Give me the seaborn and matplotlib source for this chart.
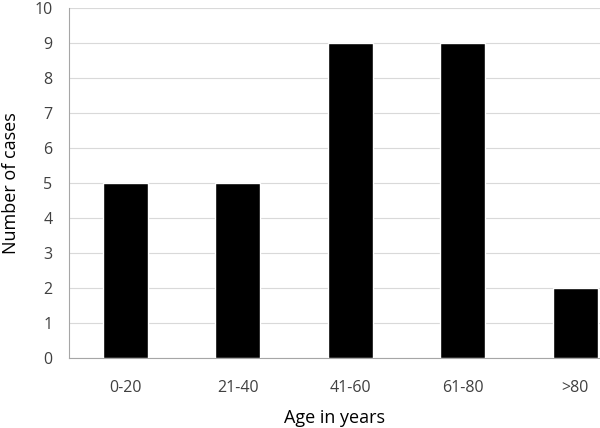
import numpy as np
import pandas as pd
import matplotlib
matplotlib.use('Agg')
import matplotlib.pyplot as plt
import seaborn as sns

age_groups = ['0-20', '21-40', '41-60', '61-80', '>80']
cases = [5, 5, 9, 9, 2]

df = pd.DataFrame({'age': age_groups, 'cases': cases})

sns.set_style('white')
plt.rcParams['font.family'] = ['Open Sans', 'DejaVu Sans']

fig = plt.figure(figsize=(6, 4.28), dpi=100)
# the original chart is cut off on the right, so the axes run past the figure edge
ax = fig.add_axes([0.115, 0.1636, 0.9375, 0.8174])

sns.barplot(data=df, x='age', y='cases', color='black', width=0.4,
            saturation=1, ax=ax, zorder=3)

ax.set_ylim(0, 10)
ax.set_xlim(-0.5, len(age_groups) - 0.5)
ax.set_yticks(range(0, 11))
ax.yaxis.grid(True, color='#d9d9d9', linewidth=0.8, zorder=0)
ax.set_axisbelow(True)

for side in ['top', 'right']:
    ax.spines[side].set_visible(False)
for side in ['left', 'bottom']:
    ax.spines[side].set_color('#a6a6a6')
    ax.spines[side].set_linewidth(0.8)

ax.tick_params(axis='y', which='major', length=6, color='#a6a6a6', width=0.8,
               labelsize=11.5, labelcolor='#404040', pad=6)
ax.tick_params(axis='x', which='major', length=0, labelsize=11.5,
               labelcolor='#404040', pad=16)
ax.set_xticks(np.arange(0.5, len(age_groups) - 1, 1.0), minor=True)
ax.tick_params(axis='x', which='minor', length=6, color='#a6a6a6', width=0.8)

ax.set_xlabel('Age in years', fontsize=13, color='black', labelpad=8)
# centre the x label on the visible part of the axes
ax.xaxis.set_label_coords(0.4724, -0.145)
ax.set_ylabel('Number of cases', fontsize=13, color='black', labelpad=10)

fig.savefig('out.png', dpi=100)
